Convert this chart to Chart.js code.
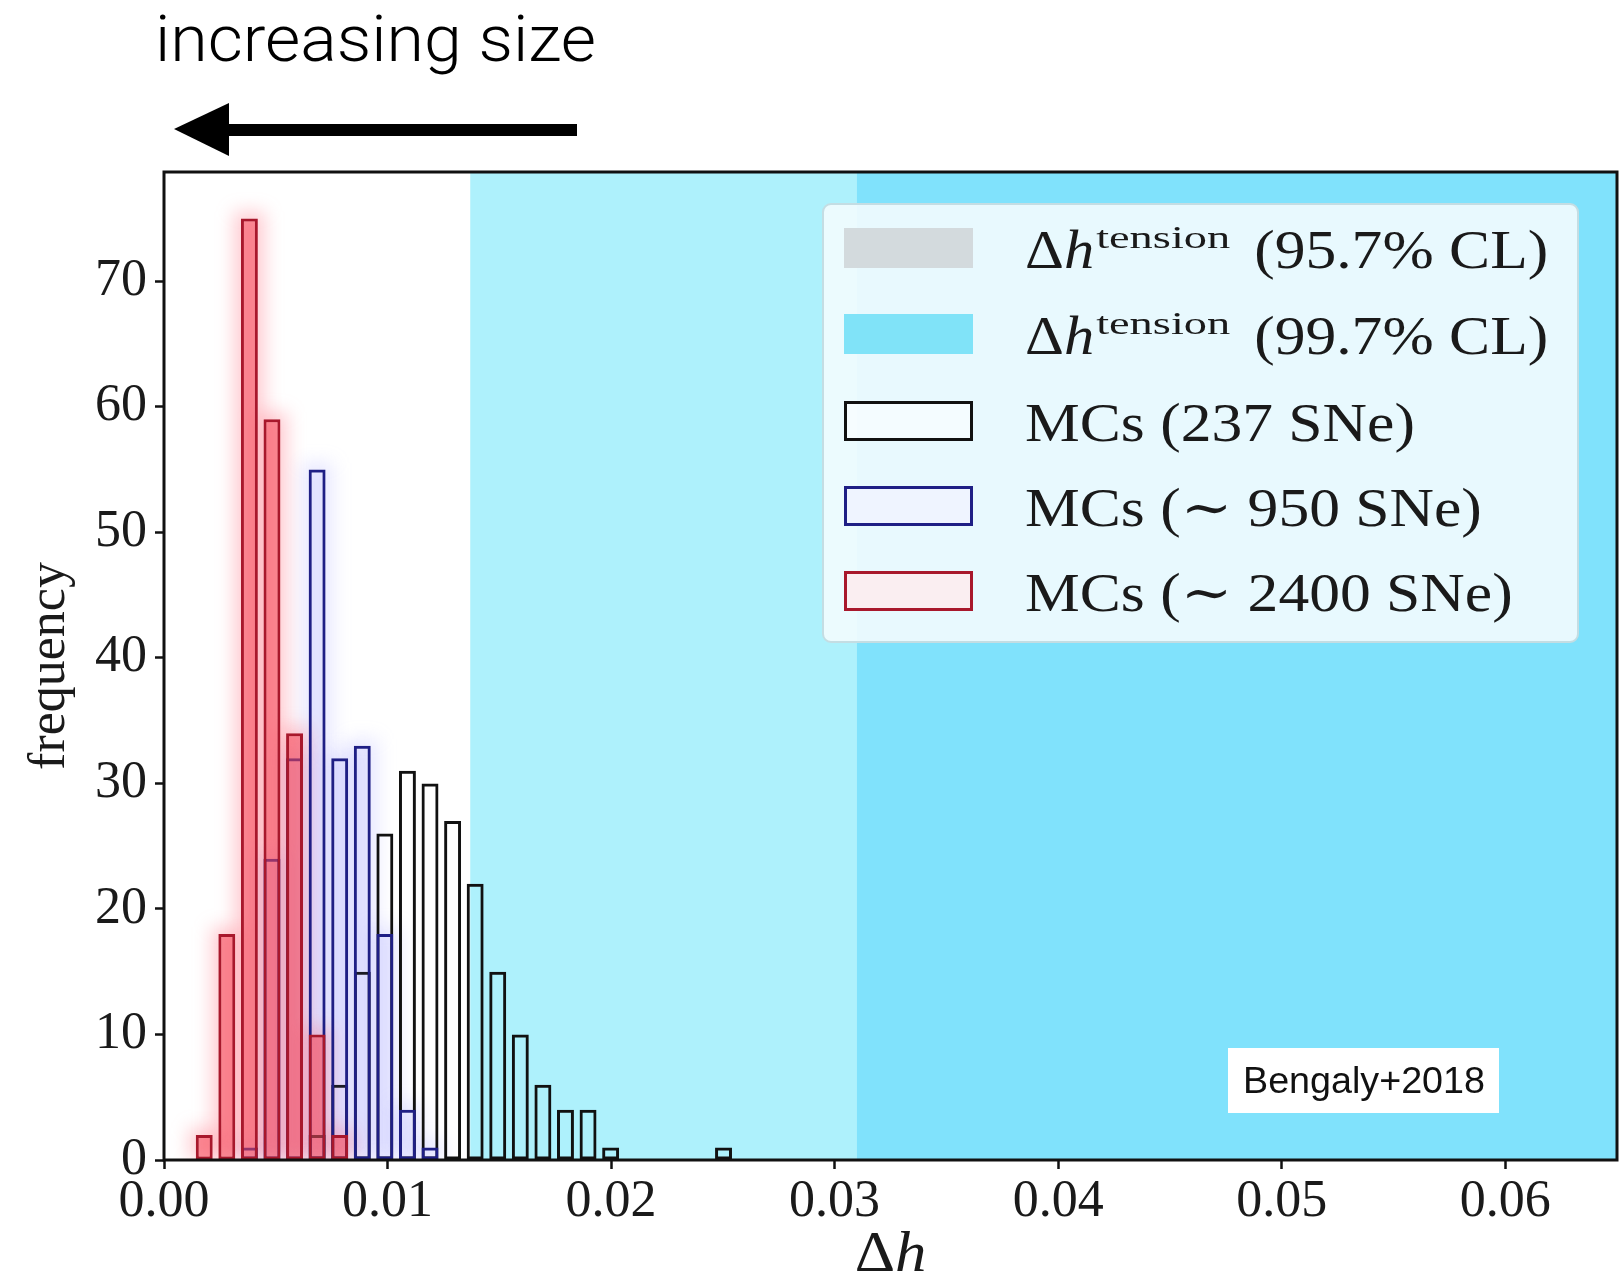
<!DOCTYPE html>
<html lang="en">
<head>
<meta charset="UTF-8" />
<title>Δh histograms</title>
<style>
  html, body { margin: 0; padding: 0; background: #fff; }
  #wrap { position: relative; width: 1623px; height: 1279px; overflow: hidden; }
  #chart { position: absolute; left: 0; top: 0; }
  #overlay { position: absolute; left: 0; top: 0; pointer-events: none; }
</style>
</head>
<body>
<div id="wrap">
  <canvas id="chart" width="1623" height="1279"></canvas>
  <svg id="overlay" width="1623" height="1279">
    <text x="155" y="61" font-family="Roboto, 'Liberation Sans', sans-serif" font-weight="300" font-size="64" textLength="441" lengthAdjust="spacingAndGlyphs" fill="#000">increasing size</text>
    <polygon points="174,129 229,103 229,156" fill="#000" />
    <rect x="227" y="124" width="350" height="12" fill="#000" />
    <rect x="1228" y="1048" width="271" height="65" fill="#fff" />
    <text x="1243" y="1093" font-family="'Liberation Sans', Arial, sans-serif" font-size="36" textLength="242" lengthAdjust="spacingAndGlyphs" fill="#111">Bengaly+2018</text>
  </svg>
</div>

<script src="https://cdn.jsdelivr.net/npm/chart.js"></script>
<script>
// histogram bins (centres) shared by the three MC runs
const binCenters = [0.00180, 0.00281, 0.00382, 0.00483, 0.00584, 0.00685, 0.00786, 0.00887,
                    0.00988, 0.01089, 0.01190, 0.01291, 0.01392, 0.01493, 0.01594, 0.01695,
                    0.01796, 0.01897, 0.01998, 0.02099, 0.02200, 0.02301, 0.02402, 0.02503];

// counts per bin, 200 realisations each
const counts237  = [0, 0, 0, 0, 0, 2, 6, 15, 26, 31, 30, 27, 22, 15, 10, 6, 4, 4, 1, 0, 0, 0, 0, 1];
const counts950  = [0, 0, 1, 24, 32, 55, 32, 33, 18, 4, 1, 0, 0, 0, 0, 0, 0, 0, 0, 0, 0, 0, 0, 0];
const counts2400 = [2, 18, 75, 59, 34, 10, 2, 0, 0, 0, 0, 0, 0, 0, 0, 0, 0, 0, 0, 0, 0, 0, 0, 0];

const seriesLabels = ['MCs (237 SNe)', 'MCs (\u223C 950 SNe)', 'MCs (\u223C 2400 SNe)'];

// lower edge of the Δh^tension bands (they run to the right edge of the axis)
const tensionStart = [0.0137, 0.031];
const tensionLabels = ['(95.7% CL)', '(99.7% CL)'];

const xMax = 0.065;
const yMax = 78.7;
const xStep = 0.01;
const yStep = 10;

const serif = "'Liberation Serif', 'DejaVu Serif', serif";
const bandColors = ['#aef1fc', '#80e2fc'];
const legendPatchColors = ['#d3dadd', '#80e3f8'];

function points(counts) {
  return binCenters
    .map((x, i) => ({ x: x, y: counts[i] }))
    .filter(p => p.y > 0);
}

// draws text stretched horizontally
function wideText(ctx, text, x, y, font, sx) {
  ctx.save();
  ctx.font = font;
  ctx.translate(x, y);
  ctx.scale(sx, 1);
  ctx.fillText(text, 0, 0);
  const w = ctx.measureText(text).width * sx;
  ctx.restore();
  return w;
}

const bandsPlugin = {
  id: 'bands',
  beforeDatasetsDraw(chart) {
    const { ctx, chartArea: a, scales } = chart;
    ctx.save();
    tensionStart.forEach((v, i) => {
      const x0 = scales.x.getPixelForValue(v);
      ctx.fillStyle = bandColors[i];
      ctx.fillRect(x0, a.top, a.right - x0, a.bottom - a.top);
    });

    // soft halo behind the red and blue bars
    ctx.beginPath();
    ctx.rect(a.left, a.top, a.right - a.left, a.bottom - a.top);
    ctx.clip();
    ctx.filter = 'blur(9px)';
    chart.data.datasets.forEach((ds, i) => {
      if (!ds.glow) return;
      ctx.fillStyle = ds.glow;
      chart.getDatasetMeta(i).data.forEach(bar => {
        const p = bar.getProps(['x', 'y', 'base', 'width'], true);
        ctx.fillRect(p.x - p.width / 2 - 7, p.y - 7, p.width + 14, p.base - p.y + 7);
      });
    });
    ctx.restore();
  }
};

const legendPlugin = {
  id: 'boxLegend',
  afterDatasetsDraw(chart) {
    const { ctx, chartArea: a } = chart;
    const bx = a.right - 794, by = a.top + 32, bw = 755, bh = 438;
    ctx.save();
    ctx.beginPath();
    ctx.roundRect(bx, by, bw, bh, 8);
    ctx.fillStyle = 'rgba(243, 252, 254, 0.9)';
    ctx.fill();
    ctx.lineWidth = 2;
    ctx.strokeStyle = '#c4dde3';
    ctx.stroke();

    const rowY = [44, 130, 217, 302, 387];
    const px = bx + 21, pw = 129, ph = 40;
    const tx = bx + 202;
    const font = '54px ' + serif;
    ctx.textBaseline = 'alphabetic';

    // Δh^tension bands
    tensionLabels.forEach((lab, i) => {
      const cy = by + rowY[i];
      ctx.fillStyle = legendPatchColors[i];
      ctx.fillRect(px, cy - ph / 2, pw, ph);
      ctx.fillStyle = '#1a1a1a';
      let x = tx;
      const base = cy + 20;
      x += wideText(ctx, '\u0394', x, base, font, 1.12);
      x += wideText(ctx, 'h', x, base, 'italic ' + font, 1.12);
      x += 2;
      x += wideText(ctx, 'tension', x, base - 20, '32px ' + serif, 1.45);
      x += 24;
      wideText(ctx, lab, x, base, font, 1.14);
    });

    // MC histograms
    chart.data.datasets.forEach((ds, j) => {
      const cy = by + rowY[2 + j];
      ctx.lineWidth = 3;
      ctx.strokeStyle = ds.borderColor;
      ctx.fillStyle = ds.legendFill;
      ctx.fillRect(px, cy - ph / 2, pw, ph);
      ctx.strokeRect(px + 1.5, cy - ph / 2 + 1.5, pw - 3, ph - 3);
      ctx.fillStyle = '#1a1a1a';
      wideText(ctx, ds.label, tx, cy + 20, font, 1.14);
    });

    ctx.restore();
  },
  afterDraw(chart) {
    const { ctx, chartArea: a } = chart;
    ctx.save();
    // frame round the axes
    ctx.lineWidth = 3;
    ctx.strokeStyle = '#111';
    ctx.strokeRect(a.left, a.top, a.right - a.left, a.bottom - a.top);

    // x-axis title: upright Δ, italic h
    ctx.fillStyle = '#1a1a1a';
    ctx.textBaseline = 'alphabetic';
    const f = '56px ' + serif;
    ctx.font = f;
    const wD = ctx.measureText('\u0394').width * 1.12;
    ctx.font = 'italic ' + f;
    const wH = ctx.measureText('h').width * 1.12;
    const x0 = (a.left + a.right) / 2 - (wD + wH) / 2;
    wideText(ctx, '\u0394', x0, 1271, f, 1.12);
    wideText(ctx, 'h', x0 + wD, 1271, 'italic ' + f, 1.12);
    ctx.restore();
  }
};

const tickFont = { family: serif, size: 52 };

// listed bottom-to-top in the legend order; red is drawn on top
new Chart(document.getElementById('chart'), {
  type: 'bar',
  data: {
    datasets: [
      {
        label: seriesLabels[0],
        data: points(counts237),
        borderColor: '#111111',
        backgroundColor: 'rgba(0,0,0,0)',
        legendFill: 'rgba(255,255,255,0.5)',
        order: 2
      },
      {
        label: seriesLabels[1],
        data: points(counts950),
        borderColor: '#1f1f85',
        backgroundColor: 'rgba(150,150,255,0.08)',
        legendFill: 'rgba(240,242,255,0.8)',
        glow: 'rgba(150,150,255,0.22)',
        order: 1
      },
      {
        label: seriesLabels[2],
        data: points(counts2400),
        borderColor: '#a8182c',
        backgroundColor: 'rgba(245,70,85,0.55)',
        legendFill: 'rgba(252,236,240,0.9)',
        glow: 'rgba(255,110,125,0.35)',
        order: 0
      }
    ]
  },
  options: {
    responsive: false,
    animation: false,
    devicePixelRatio: 1,
    layout: { padding: { top: 172, right: 6, left: 0, bottom: 0 } },
    datasets: {
      bar: {
        grouped: false,
        borderWidth: 3,
        borderSkipped: false,
        categoryPercentage: 1,
        barPercentage: 0.75
      }
    },
    plugins: {
      legend: { display: false },
      tooltip: { enabled: false }
    },
    scales: {
      x: {
        type: 'linear',
        min: 0,
        max: xMax,
        offset: false,
        border: { display: false },
        grid: {
          offset: false,
          drawOnChartArea: false,
          drawTicks: true,
          tickLength: 9,
          tickWidth: 2.5,
          tickColor: '#111'
        },
        ticks: {
          stepSize: xStep,
          includeBounds: false,
          autoSkip: false,
          maxRotation: 0,
          padding: 2,
          color: '#1a1a1a',
          font: tickFont,
          callback: v => v.toFixed(2)
        },
        afterFit: s => { s.height = 119; }
      },
      y: {
        min: 0,
        max: yMax,
        border: { display: false },
        grid: {
          drawOnChartArea: false,
          drawTicks: true,
          tickLength: 9,
          tickWidth: 2.5,
          tickColor: '#111'
        },
        ticks: {
          stepSize: yStep,
          includeBounds: false,
          autoSkip: false,
          padding: 8,
          color: '#1a1a1a',
          font: tickFont
        },
        title: {
          display: true,
          text: 'frequency',
          color: '#1a1a1a',
          font: { family: serif, size: 52 },
          padding: { top: 19, bottom: 0 }
        },
        afterFit: s => { s.width = 164; }
      }
    }
  },
  plugins: [bandsPlugin, legendPlugin]
});
</script>
</body>
</html>
